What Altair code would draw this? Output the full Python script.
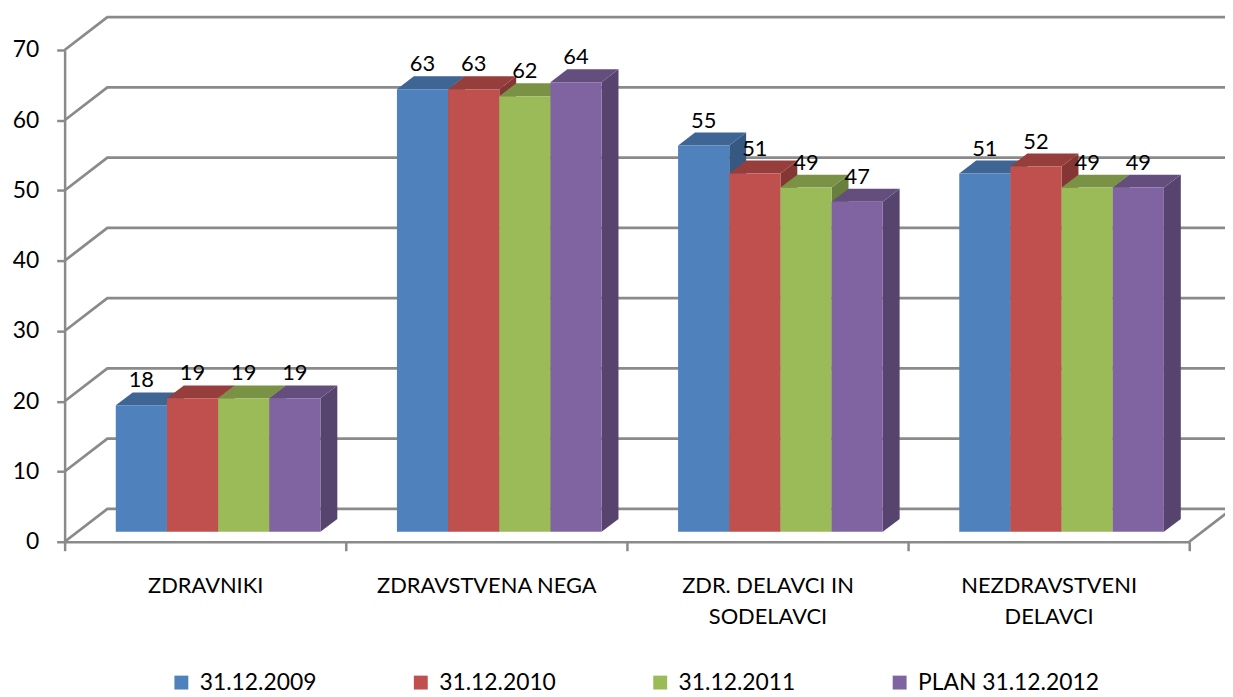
import json
import altair as alt
import pandas as pd

# ---------------- data ----------------
category_lines = [["ZDRAVNIKI"], ["ZDRAVSTVENA NEGA"],
                  ["ZDR. DELAVCI IN", "SODELAVCI"], ["NEZDRAVSTVENI", "DELAVCI"]]
categories = [" ".join(c) for c in category_lines]
series = ["31.12.2009", "31.12.2010", "31.12.2011", "PLAN 31.12.2012"]
values_2009 = [18, 63, 55, 51]
values_2010 = [19, 63, 51, 52]
values_2011 = [19, 62, 49, 49]
values_2012 = [19, 64, 47, 49]
series_values = [values_2009, values_2010, values_2011, values_2012]
y_ticks = [0, 10, 20, 30, 40, 50, 60, 70]

# ---------------- styles ----------------
front_colors = ["#4F81BD", "#C0504D", "#9BBB59", "#8064A2"]
top_colors = ["#3E6593", "#963E3C", "#799245", "#644E7E"]
side_colors = ["#365881", "#833634", "#697F3D", "#57446E"]
GRID = "#8a8a8a"
FONT = "Lato"

# ---------------- geometry (data units) ----------------
W, H = 1132, 495
X_MAX, Y_MAX = 4, 70
PXU = W / X_MAX          # px per category unit
PYU = H / Y_MAX          # px per value unit
DX_BACK = 43 / PXU       # depth of the chart floor
DY_BACK = 33 / PYU
FX, FY = 13 / PXU, 10 / PYU      # bar front plane depth
DDX, DDY = 17 / PXU, 13 / PYU    # bar thickness
BAR_W = 51.5 / PXU

fronts, tops, sides = [], [], []
for s, (name, vals) in enumerate(zip(series, series_values)):
    for c, v in enumerate(vals):
        left = c + 0.5 - 2 * BAR_W + s * BAR_W + FX
        right = left + BAR_W
        bid = f"{s}-{c}"
        fronts.append(dict(series=name, category=categories[c], value=v,
                           x0=left, x1=right, y0=FY, y1=v + FY,
                           lx=(left + right) / 2, ly=v + FY + DDY))
        tops.append(dict(bar=bid, color=top_colors[s], yy=v + FY, xa=left, xb=right))
        tops.append(dict(bar=bid, color=top_colors[s], yy=v + FY + DDY,
                         xa=left + DDX, xb=right + DDX))
        sides.append(dict(bar=bid, color=side_colors[s], xx=right, ya=FY, yb=v + FY))
        sides.append(dict(bar=bid, color=side_colors[s], xx=right + DDX,
                          ya=FY + DDY, yb=v + FY + DDY))

grid = []
for g in y_ticks:
    pts = [(0, g), (DX_BACK, g + DY_BACK), (X_MAX + DX_BACK, g + DY_BACK)]
    for k, (gx, gy) in enumerate(pts):
        grid.append(dict(gid=f"g{g}", k=k, gx=gx, gy=gy))
for k, (gx, gy) in enumerate([(X_MAX, 0), (X_MAX + DX_BACK, DY_BACK)]):
    grid.append(dict(gid="floor", k=k, gx=gx, gy=gy))

fronts_df = pd.DataFrame(fronts)
tops_df = pd.DataFrame(tops)
sides_df = pd.DataFrame(sides)
grid_df = pd.DataFrame(grid)

xs = alt.Scale(domain=[0, X_MAX], nice=False, zero=False)
ys = alt.Scale(domain=[0, Y_MAX], nice=False, zero=False)

label_expr = json.dumps(category_lines + [[""]]) + "[round(datum.value)]"

x_axis = alt.Axis(values=[0, 1, 2, 3, 4], labelExpr=label_expr, labelOffset=PXU / 2,
                  tickSize=9, tickColor=GRID, tickWidth=2.5,
                  domainColor=GRID, domainWidth=2.5,
                  labelFont=FONT, labelFontSize=22, labelColor="black",
                  labelPadding=25, labelLineHeight=31, labelOverlap=False,
                  labelFlush=False, labelLimit=400, labelAlign="center",
                  labelBaseline="top", grid=False, title=None)
y_axis = alt.Axis(values=y_ticks, tickSize=8, tickColor=GRID, tickWidth=2.5,
                  domainColor=GRID, domainWidth=2.5,
                  labelFont=FONT, labelFontSize=23, labelColor="black",
                  labelPadding=18, grid=False, title=None)


def X(field):
    return alt.X(field, scale=xs, axis=x_axis)


def Y(field):
    return alt.Y(field, scale=ys, axis=y_axis)


grid_layer = alt.Chart(grid_df).mark_line(color=GRID, strokeWidth=2.8).encode(
    x=X("gx:Q"),
    y=Y("gy:Q"),
    detail="gid:N",
    order="k:O",
)

side_layer = alt.Chart(sides_df).mark_area(orient="vertical").encode(
    x=X("xx:Q"),
    y=Y("ya:Q"),
    y2="yb:Q",
    detail="bar:N",
    fill=alt.Fill("color:N", scale=None),
)

top_layer = alt.Chart(tops_df).mark_area(orient="horizontal").encode(
    y=Y("yy:Q"),
    x=X("xa:Q"),
    x2="xb:Q",
    detail="bar:N",
    fill=alt.Fill("color:N", scale=None),
)

front_layer = alt.Chart(fronts_df).mark_rect().encode(
    x=X("x0:Q"),
    x2="x1:Q",
    y=Y("y0:Q"),
    y2="y1:Q",
    color=alt.Color("series:N", scale=alt.Scale(domain=series, range=front_colors),
                    legend=alt.Legend(orient="none", legendX=106, legendY=625,
                                      direction="horizontal", columns=4,
                                      gridAlign="all", columnPadding=28,
                                      symbolType="square", symbolSize=196,
                                      symbolStrokeWidth=0, labelFont=FONT,
                                      labelFontSize=23, labelColor="black",
                                      labelOffset=7, labelLimit=400,
                                      title=None, padding=0)),
)

label_layer = alt.Chart(fronts_df).mark_text(
    baseline="alphabetic", dy=-5, fontSize=22, font=FONT, color="black"
).encode(
    x=X("lx:Q"),
    y=Y("ly:Q"),
    text="value:Q",
)

chart = alt.layer(grid_layer, side_layer, top_layer, front_layer, label_layer).properties(
    width=W, height=H,
    autosize=alt.AutoSizeParams(type="none"),
    padding={"left": 57, "top": 40, "right": 36, "bottom": 154},
).configure_view(stroke=None)

chart.save("out.html", embed_options={"renderer": "svg", "actions": False})
